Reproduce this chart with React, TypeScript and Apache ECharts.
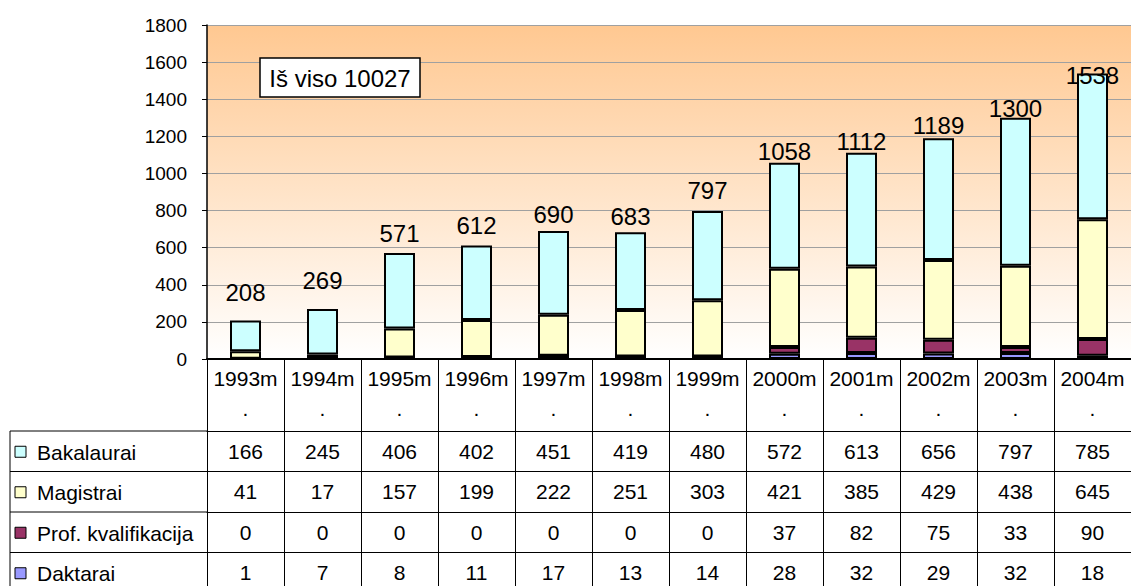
import React, { useEffect, useRef } from "react";
import * as echarts from "echarts";

// ---- data ----
const categories = ["1993m.", "1994m.", "1995m.", "1996m.", "1997m.", "1998m.", "1999m.", "2000m.", "2001m.", "2002m.", "2003m.", "2004m."];
const bakalaurai = [166, 245, 406, 402, 451, 419, 480, 572, 613, 656, 797, 785];
const magistrai = [41, 17, 157, 199, 222, 251, 303, 421, 385, 429, 438, 645];
const profKvalifikacija = [0, 0, 0, 0, 0, 0, 0, 37, 82, 75, 33, 90];
const daktarai = [1, 7, 8, 11, 17, 13, 14, 28, 32, 29, 32, 18];
const seriesNames = ["Bakalaurai", "Magistrai", "Prof. kvalifikacija", "Daktarai"];
const yMin = 0;
const yMax = 1800;
const yInterval = 200;
const totalCaption = "Iš viso";

// ---- styling (not data) ----
const FONT = 'Arial, "Liberation Sans", sans-serif';
const colors: Record<string, string> = {
  Bakalaurai: "#CCFFFF",
  Magistrai: "#FFFFCC",
  "Prof. kvalifikacija": "#993366",
  Daktarai: "#9999FF",
};
// vertical nudge of each total label (px), as hand-placed in the original
const totalLabelNudge = [-16, -17, -8, -8, -4, -4, -9, 1, 1, -1, 3, 14];

const GRID_LEFT = 207;
const GRID_TOP = 25;
const ZERO_Y = 359;
const HEADER_H = 72;
const ROW_H = 40.5;
const TABLE_LEFT = 10;
const TABLE_FONT = 21;

export default function App() {
  const ref = useRef<HTMLDivElement>(null);

  useEffect(() => {
    if (!ref.current) return;
    const chart = echarts.init(ref.current, undefined, { renderer: "svg" });
    const H = 586;

    const rows: Record<string, number[]> = {
      Bakalaurai: bakalaurai,
      Magistrai: magistrai,
      "Prof. kvalifikacija": profKvalifikacija,
      Daktarai: daktarai,
    };
    const totals = categories.map((_, i) => bakalaurai[i] + magistrai[i] + profKvalifikacija[i] + daktarai[i]);
    const grand = totals.reduce((a, b) => a + b, 0);

    const stackOrder = ["Daktarai", "Prof. kvalifikacija", "Magistrai", "Bakalaurai"];

    const series: any[] = stackOrder.map((name) => {
      const isTop = name === "Bakalaurai";
      return {
        name,
        type: "bar",
        stack: "total",
        barWidth: 31,
        xAxisIndex: 0,
        yAxisIndex: 0,
        itemStyle: { color: colors[name], borderColor: "#000", borderWidth: 2 },
        data: rows[name].map((v, i) =>
          isTop ? { value: v, label: { offset: [0, totalLabelNudge[i]] } } : v
        ),
        label: isTop
          ? {
              show: true,
              position: "top",
              distance: 0,
              fontSize: 24,
              lineHeight: 24,
              fontFamily: FONT,
              color: "#000",
              formatter: (p: any) => String(totals[p.dataIndex]),
            }
          : { show: false },
        emphasis: { disabled: true },
      };
    });

    const tableAxes: any[] = seriesNames.map((name, r) => ({
      type: "category",
      gridIndex: 0,
      position: "bottom",
      offset: HEADER_H + ROW_H * r,
      data: categories,
      axisLine: { show: true, lineStyle: { color: "#000", width: 1 } },
      axisTick: { show: true, alignWithLabel: false, interval: 0, length: ROW_H, lineStyle: { color: "#000", width: 1 } },
      axisLabel: {
        show: true,
        interval: 0,
        fontSize: TABLE_FONT,
        lineHeight: 21,
        margin: 9.5,
        color: "#000",
        fontFamily: FONT,
        formatter: (_v: string, idx: number) => String(rows[name][idx]),
      },
      splitLine: { show: false },
    }));

    const graphics: any[] = [];
    // left label column of the data table (legend keys + names)
    seriesNames.forEach((name, r) => {
      const y = ZERO_Y + HEADER_H + ROW_H * r;
      graphics.push({
        type: "line",
        shape: { x1: TABLE_LEFT, y1: y, x2: GRID_LEFT, y2: y },
        style: { stroke: "#000", lineWidth: 1 },
        silent: true,
      });
      graphics.push({
        type: "rect",
        shape: { x: 15, y: y + ROW_H / 2 - 5, width: 11, height: 11 },
        style: { fill: colors[name], stroke: "#000", lineWidth: 1 },
        silent: true,
      });
      graphics.push({
        type: "text",
        x: 37,
        y: y + ROW_H / 2 + 1,
        style: {
          text: name,
          fontSize: TABLE_FONT,
          fontFamily: FONT,
          fill: "#000",
          align: "left",
          verticalAlign: "middle",
        },
        silent: true,
      });
    });
    graphics.push({
      type: "line",
      shape: { x1: TABLE_LEFT, y1: ZERO_Y + HEADER_H, x2: TABLE_LEFT, y2: H + 10 },
      style: { stroke: "#000", lineWidth: 1 },
      silent: true,
    });
    // "Iš viso" box
    graphics.push({
      type: "rect",
      shape: { x: 260, y: 58, width: 160, height: 39 },
      style: { fill: "#fff", stroke: "#000", lineWidth: 1.5 },
      silent: true,
      z: 10,
    });
    graphics.push({
      type: "text",
      x: 340,
      y: 78,
      style: {
        text: `${totalCaption} ${grand}`,
        fontSize: 24,
        fontFamily: FONT,
        fill: "#000",
        align: "center",
        verticalAlign: "middle",
      },
      silent: true,
      z: 11,
    });

    const option: any = {
      animation: false,
      textStyle: { fontFamily: FONT },
      grid: {
        left: GRID_LEFT,
        right: 0,
        top: GRID_TOP,
        bottom: H - ZERO_Y,
        show: true,
        borderWidth: 0,
        backgroundColor: new echarts.graphic.LinearGradient(0, 0, 0, 1, [
          { offset: 0, color: "#FFC891" },
          { offset: 1, color: "#FFFFFF" },
        ]),
      },
      xAxis: [
        {
          type: "category",
          gridIndex: 0,
          position: "bottom",
          data: categories,
          axisLine: { show: true, lineStyle: { color: "#000", width: 2 } },
          axisTick: { show: true, alignWithLabel: false, interval: 0, length: HEADER_H, lineStyle: { color: "#000", width: 1 } },
          axisLabel: {
            interval: 0,
            fontSize: TABLE_FONT,
            lineHeight: 30,
            margin: 4,
            color: "#000",
            fontFamily: FONT,
            formatter: (v: string) => v.replace(".", "\n."),
          },
          splitLine: { show: false },
        },
        ...tableAxes,
      ],
      yAxis: {
        type: "value",
        min: yMin,
        max: yMax,
        interval: yInterval,
        axisLine: { show: true, lineStyle: { color: "#000", width: 1.5 } },
        axisTick: { show: true, length: 5, lineStyle: { color: "#000" } },
        axisLabel: {
          fontSize: 19,
          color: "#000",
          margin: 20,
          fontFamily: FONT,
          formatter: (v: number) => String(v),
        },
        splitLine: { show: true, lineStyle: { color: "#A0A0A0", width: 1 } },
      },
      series,
      graphic: graphics,
    };

    chart.setOption(option);
    return () => chart.dispose();
  }, []);

  return (
    <div
      ref={ref}
      style={{ position: "absolute", left: 0, top: 0, width: 1131, height: 586 }}
    />
  );
}
